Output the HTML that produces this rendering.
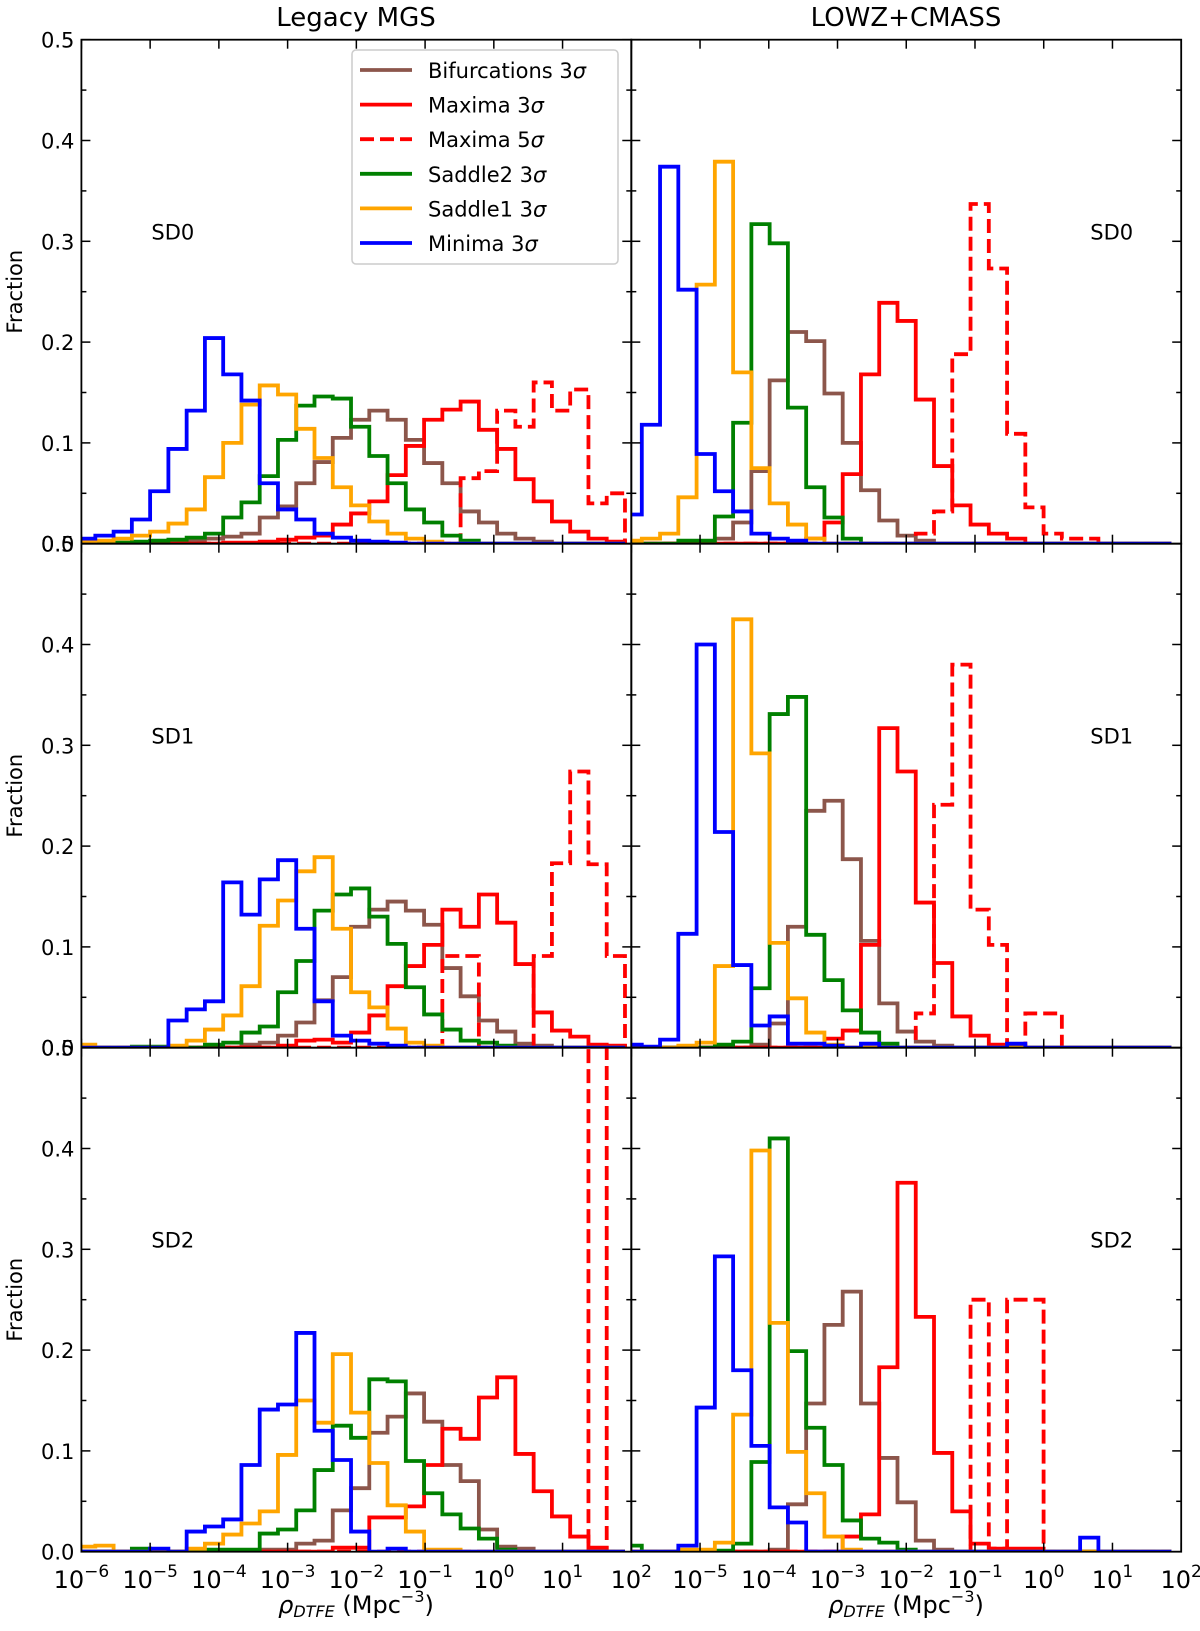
<!DOCTYPE html>
<html><head><meta charset="utf-8"><style>
html,body{margin:0;padding:0;background:#fff;}
svg{display:block;font-family:"DejaVu Sans","Liberation Sans",sans-serif;}
</style></head><body>
<svg id="chart" width="1200" height="1631" viewBox="0 0 1200 1631" xmlns="http://www.w3.org/2000/svg">
<text x="356" y="26" font-size="26" text-anchor="middle">Legacy MGS</text>
<text x="906" y="26" font-size="26" text-anchor="middle">LOWZ+CMASS</text>
<g id="plots"></g>
</svg>
<script>
// bin grid (log10 density)
const leftBinStart = -6.063;
const rightBinStart = -6.113;
const binWidth = 0.2657;
const xTicks = [-6,-5,-4,-3,-2,-1,0,1,2];
const yTicks = [0,0.1,0.2,0.3,0.4,0.5];
const yTickLabels = ["0.0","0.1","0.2","0.3","0.4","0.5"];
const seriesNames = ["Bifurcations 3σ","Maxima 3σ","Maxima 5σ","Saddle2 3σ","Saddle1 3σ","Minima 3σ"];
const panelLabels = ["SD0","SD1","SD2"];
const columnTitles = ["Legacy MGS","LOWZ+CMASS"];

// SD0 Legacy MGS
const tlBrown=[0,0,0,0,0.001,0.002,0.003,0.005,0.007,0.010,0.026,0.037,0.060,0.081,0.105,0.123,0.132,0.123,0.103,0.080,0.060,0.032,0.021,0.010,0.005,0.002,0,0,0,0];
const tlRed=[0,0,0,0,0,0,0,0,0.001,0.001,0.002,0.004,0.006,0.008,0.019,0.030,0.042,0.068,0.097,0.123,0.133,0.141,0.113,0.094,0.064,0.042,0.022,0.012,0.005,0.002];
const tlRed5=[0,0,0,0,0,0,0,0,0,0,0,0,0,0,0,0,0,0,0,0,0,0.065,0.072,0.132,0.116,0.160,0.132,0.153,0.040,0.050];
const tlGreen=[0,0,0.001,0.002,0.003,0.004,0.006,0.010,0.026,0.041,0.067,0.103,0.137,0.146,0.144,0.116,0.087,0.060,0.034,0.021,0.008,0.003,0,0,0,0,0,0,0,0];
const tlOrange=[0.002,0.003,0.005,0.008,0.012,0.020,0.034,0.066,0.100,0.138,0.157,0.148,0.114,0.085,0.056,0.038,0.022,0.010,0.005,0.002,0,0,0,0,0,0,0,0,0,0];
const tlBlue=[0.005,0.008,0.012,0.024,0.052,0.094,0.132,0.204,0.168,0.142,0.060,0.034,0.024,0.010,0.006,0.003,0.002,0.001,0,0,0,0,0,0,0,0,0,0,0,0];
// SD1 Legacy MGS
const mlBrown=[0,0,0,0,0,0,0,0,0,0.003,0.005,0.012,0.025,0.047,0.070,0.120,0.137,0.145,0.136,0.122,0.079,0.051,0.027,0.016,0.004,0.002,0,0,0,0];
const mlRed=[0,0,0,0,0,0,0,0,0,0,0,0.002,0.007,0.008,0.005,0.015,0.032,0.061,0.081,0.102,0.137,0.120,0.152,0.124,0.083,0.035,0.017,0.011,0.003,0.002];
const mlRed5=[0,0,0,0,0,0,0,0,0,0,0,0,0,0,0,0,0,0,0,0,0.091,0.091,0,0,0,0.091,0.183,0.274,0.182,0.091];
const mlGreen=[0,0,0,0.001,0.001,0,0,0.003,0.005,0.015,0.021,0.055,0.086,0.136,0.152,0.158,0.130,0.103,0.060,0.033,0.018,0.007,0.005,0.002,0,0,0,0,0,0];
const mlOrange=[0.003,0,0,0,0,0.002,0.007,0.018,0.032,0.061,0.121,0.146,0.175,0.189,0.118,0.055,0.040,0.019,0.005,0.002,0,0,0,0,0,0,0,0,0,0];
const mlBlue=[0,0,0,0,0,0.027,0.038,0.046,0.164,0.132,0.167,0.186,0.118,0.046,0.012,0.007,0.004,0.002,0,0,0,0,0,0,0,0,0,0,0,0];
// SD2 Legacy MGS
const blBrown=[0,0,0,0,0,0,0,0,0,0,0.002,0.002,0.008,0.011,0.041,0.063,0.118,0.134,0.157,0.129,0.086,0.070,0.022,0.005,0.003,0,0,0,0,0];
const blRed=[0,0,0,0,0,0,0,0,0,0,0,0,0,0,0.004,0.004,0.034,0.034,0.045,0.086,0.122,0.112,0.153,0.173,0.097,0.060,0.035,0.015,0.004,0];
const blRed5=[0,0,0,0,0,0,0,0,0,0,0,0,0,0,0,0,0,0,0,0,0,0,0,0,0,0,0,0,1.0,0];
const blGreen=[0,0,0,0.003,0,0,0,0.002,0.002,0.002,0.018,0.022,0.041,0.081,0.125,0.113,0.171,0.169,0.090,0.058,0.037,0.023,0.013,0.002,0,0,0,0,0,0];
const blOrange=[0.005,0.006,0,0,0,0,0.003,0.008,0.017,0.028,0.040,0.096,0.150,0.128,0.196,0.138,0.088,0.046,0.020,0.002,0.002,0,0,0,0,0,0,0,0,0];
const blBlue=[0,0,0,0,0.003,0,0.020,0.025,0.032,0.086,0.141,0.146,0.217,0.120,0.091,0.020,0,0.003,0,0,0,0,0,0,0,0,0,0,0,0];
// SD0 LOWZ+CMASS
const trBrown=[0,0,0,0,0,0.005,0.021,0.072,0.162,0.210,0.201,0.149,0.100,0.053,0.023,0.008,0.003,0,0,0,0,0,0,0,0,0,0,0,0,0];
const trRed=[0,0,0,0,0,0,0,0,0,0,0.005,0.021,0.069,0.168,0.239,0.221,0.143,0.077,0.038,0.019,0.010,0.005,0,0,0,0,0,0,0,0];
const trRed5=[0,0,0,0,0,0,0,0,0,0,0,0,0,0,0,0,0.010,0.032,0.188,0.337,0.273,0.109,0.036,0.010,0.005,0.005,0,0,0,0];
const trGreen=[0,0,0,0.003,0.003,0.027,0.120,0.317,0.298,0.135,0.056,0.026,0.005,0,0,0,0,0,0,0,0,0,0,0,0,0,0,0,0,0];
const trOrange=[0.003,0.005,0.010,0.046,0.257,0.379,0.170,0.075,0.040,0.019,0.005,0,0,0,0,0,0,0,0,0,0,0,0,0,0,0,0,0,0,0];
const trBlue=[0.029,0.118,0.374,0.252,0.089,0.052,0.032,0.010,0.005,0.003,0,0,0,0,0,0,0,0,0,0,0,0,0,0,0,0,0,0,0,0];
// SD1 LOWZ+CMASS
const mrBrown=[0,0,0,0,0,0,0,0.003,0.024,0.120,0.235,0.245,0.187,0.106,0.044,0.016,0.006,0.002,0,0,0,0,0,0,0,0,0,0,0,0];
const mrRed=[0,0,0,0,0,0,0,0,0,0,0,0.009,0.017,0.102,0.317,0.274,0.144,0.084,0.031,0.012,0.003,0.002,0,0,0,0,0,0,0,0];
const mrRed5=[0,0,0,0,0,0,0,0,0,0,0,0,0,0,0,0,0.034,0.241,0.380,0.137,0.102,0,0.034,0.034,0,0,0,0,0,0];
const mrGreen=[0,0,0,0,0,0.003,0.006,0.059,0.331,0.348,0.112,0.067,0.037,0.015,0.004,0,0,0,0,0,0,0,0,0,0,0,0,0,0,0];
const mrOrange=[0,0,0,0.002,0.005,0.081,0.425,0.292,0.104,0.049,0.015,0.003,0,0,0,0,0,0,0,0,0,0,0,0,0,0,0,0,0,0];
const mrBlue=[0.003,0.001,0.008,0.113,0.400,0.214,0.082,0.022,0.031,0.004,0.004,0.002,0,0.004,0,0,0,0,0,0,0,0.004,0,0,0,0,0,0,0,0];
// SD2 LOWZ+CMASS
const brBrown=[0,0,0,0,0,0,0,0,0.002,0.047,0.147,0.225,0.258,0.147,0.093,0.049,0.011,0.002,0,0,0,0,0,0,0,0,0,0,0,0];
const brRed=[0,0,0,0,0,0,0,0,0,0,0,0,0.015,0.037,0.183,0.366,0.233,0.098,0.040,0.008,0.003,0.003,0.003,0,0,0,0,0,0,0];
const brRed5=[0,0,0,0,0,0,0,0,0,0,0,0,0,0,0,0,0,0,0,0.25,0.003,0.25,0.25,0,0,0,0,0,0,0];
const brGreen=[0.006,0,0,0,0.001,0.001,0.008,0.089,0.410,0.199,0.123,0.086,0.031,0.013,0.009,0.002,0,0,0,0,0,0,0,0,0,0,0,0,0,0];
const brOrange=[0,0,0,0.002,0.002,0.009,0.136,0.398,0.227,0.099,0.058,0.015,0.002,0,0,0,0,0,0,0,0,0,0,0,0,0,0,0,0,0];
const brBlue=[0,0,0,0.006,0.143,0.293,0.180,0.105,0.044,0.029,0,0,0,0,0,0,0,0,0,0,0,0,0,0,0,0.014,0,0,0,0];

const NS="http://www.w3.org/2000/svg";
const root=document.getElementById('plots');
const colX=[81.4,631.3], PW=549.9, rowY=[39.7,543.7,1047.7], PH=504;
const colors=["#8c564b","#ff0000","#ff0000","#008000","#ffa500","#0000ff"];
const keys=["brown","red","red5","green","orange","blue"];
const panels=[
 [[tlBrown,tlRed,tlRed5,tlGreen,tlOrange,tlBlue],[trBrown,trRed,trRed5,trGreen,trOrange,trBlue]],
 [[mlBrown,mlRed,mlRed5,mlGreen,mlOrange,mlBlue],[mrBrown,mrRed,mrRed5,mrGreen,mrOrange,mrBlue]],
 [[blBrown,blRed,blRed5,blGreen,blOrange,blBlue],[brBrown,brRed,brRed5,brGreen,brOrange,brBlue]]];
function mk(tag,attrs,parent){const e=document.createElementNS(NS,tag);for(const k in attrs)e.setAttribute(k,attrs[k]);(parent||root).appendChild(e);return e;}
const defs=mk('defs',{});
for(let r=0;r<3;r++)for(let c=0;c<2;c++){
  const x0=colX[c], y0=rowY[r];
  const xs=v=>x0+(v+6)/8*PW;
  const ys=v=>y0+PH-v/0.5*PH;
  const cp=mk('clipPath',{id:'cp'+r+c},defs);
  mk('rect',{x:x0,y:y0,width:PW,height:PH},cp);
  const g=mk('g',{});
  
  
  const hg=mk('g',{'clip-path':'url(#cp'+r+c+')'},g);
  const start=c?rightBinStart:leftBinStart;
  panels[r][c].forEach((vals,si)=>{
    let d='M'+xs(start).toFixed(2)+','+ys(0).toFixed(2);
    vals.forEach((v,i)=>{const a=xs(start+i*binWidth),b=xs(start+(i+1)*binWidth),y=ys(v);d+=' L'+a.toFixed(2)+','+y.toFixed(2)+' L'+b.toFixed(2)+','+y.toFixed(2);});
    d+=' L'+xs(start+vals.length*binWidth).toFixed(2)+','+ys(0).toFixed(2);
    const p=mk('path',{d:d,fill:'none',stroke:colors[si],'stroke-width':3.8,'stroke-linejoin':'miter'},hg);
    if(keys[si]==='red5')p.setAttribute('stroke-dasharray','14,6');
    
    
  });
  const fr=mk('rect',{x:x0,y:y0,width:PW,height:PH,fill:'none',stroke:'#000','stroke-width':1.8},g);
  
  
  xTicks.forEach(t=>{const x=xs(t);
    mk('line',{x1:x,x2:x,y1:y0+PH,y2:y0+PH-9,stroke:'#000','stroke-width':1.5},g);
    mk('line',{x1:x,x2:x,y1:y0,y2:y0+9,stroke:'#000','stroke-width':1.5},g);
    if(r===2 && !(c===1&&t===-6)){
      const tx=mk('text',{x:x,y:1588,'font-size':24,'text-anchor':'middle'},g);
      
      
      const t1=document.createElementNS(NS,'tspan');t1.textContent='10';tx.appendChild(t1);
      const t2=document.createElementNS(NS,'tspan');t2.setAttribute('dy','-11');t2.setAttribute('font-size','17');t2.textContent=(t<0?'−':'')+Math.abs(t);tx.appendChild(t2);
    }
  });
  for(let k=0;k<=10;k++){const v=k*0.05,y=ys(v),L=(k%2===0)?9:5;
    mk('line',{x1:x0,x2:x0+L,y1:y,y2:y,stroke:'#000','stroke-width':1.5},g);
    mk('line',{x1:x0+PW,x2:x0+PW-L,y1:y,y2:y,stroke:'#000','stroke-width':1.5},g);}
  if(c===0){yTicks.forEach((v,i)=>{const t=mk('text',{x:x0-7,y:ys(v)+8,'font-size':21,'text-anchor':'end'},g);t.textContent=yTickLabels[i];
    
    });
    const yl=mk('text',{x:0,y:0,'font-size':21,'text-anchor':'middle',transform:'translate(22,'+(y0+PH/2)+') rotate(-90)'},g);yl.textContent='Fraction';
    
    
  }
  const sl=mk('text',{x:c?x0+459:x0+70,y:y0+200,'font-size':21},g);sl.textContent=panelLabels[r];
  
  
}
[356,906].forEach(cx=>{const t=mk('text',{x:cx,y:1613,'font-size':24,'text-anchor':'middle'});
  
  
  t.innerHTML='<tspan font-style="italic">ρ</tspan><tspan font-style="italic" font-size="16" dy="4">DTFE</tspan><tspan dy="-4"> (Mpc</tspan><tspan font-size="16" dy="-11">−3</tspan><tspan dy="11">)</tspan>';});
const lg=mk('g',{});


mk('rect',{x:352,y:50,width:266,height:214,rx:4,fill:'#fff','fill-opacity':0.85,stroke:'#cccccc','stroke-width':1.5},lg);
seriesNames.forEach((n,i)=>{const y=70+i*34.6;
  const l=mk('line',{x1:360,x2:412,y1:y,y2:y,stroke:colors[i],'stroke-width':3.8},lg);
  if(keys[i]==='red5')l.setAttribute('stroke-dasharray','14,6');
  
  
  const t=mk('text',{x:428,y:y+8,'font-size':21},lg);
  
  
  const parts=n.split(' ');
  t.innerHTML=parts[0]+' '+parts[1].replace('σ','')+'<tspan font-style="italic">σ</tspan>';
});
</script>
</body></html>
